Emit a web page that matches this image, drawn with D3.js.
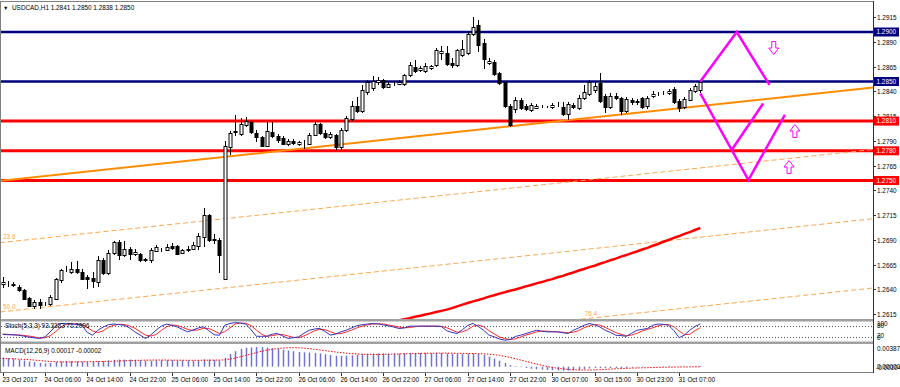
<!DOCTYPE html>
<html><head><meta charset="utf-8">
<script src="https://cdn.jsdelivr.net/npm/d3@7"></script>
<style>body{margin:0;background:#fff}svg{display:block}text{font-family:"Liberation Sans",Arial,sans-serif}</style>
</head><body><svg id="c" width="900" height="387"></svg>
<script>
// ---------------- DATA ----------------
const titleText = "USDCAD,H1  1.2841 1.2850 1.2838 1.2850";
const opens = [
1.2645,1.2645,1.2645,1.2642,1.2639,1.2631,1.2623,1.2627,1.2625,1.2625,
1.2630,1.2649,1.2660,1.2658,1.2661,1.2658,1.2653,1.2652,1.2647,1.2670,
1.2657,1.2677,1.2688,1.2675,1.2681,1.2676,1.2676,1.2670,1.2670,1.2679,
1.2680,1.2680,1.2684,1.2684,1.2677,1.2680,1.2681,1.2684,1.2693,1.2715,
1.2690,1.2690,1.2651,1.2784,1.2799,1.2797,1.2806,1.2809,1.2798,1.2794,
1.2785,1.2799,1.2795,1.2793,1.2787,1.2790,1.2787,1.2788,1.2787,1.2796,
1.2807,1.2798,1.2794,1.2796,1.2784,1.2801,1.2812,1.2825,1.2820,1.2839,
1.2843,1.2850,1.2852,1.2844,1.2847,1.2847,1.2847,1.2857,1.2865,1.2862,
1.2861,1.2864,1.2867,1.2879,1.2879,1.2869,1.2867,1.2877,1.2879,1.2898,
1.2907,1.2889,1.2869,1.2870,1.2859,1.2849,1.2825,1.2822,1.2831,1.2825,
1.2821,1.2823,1.2824,1.2824,1.2824,1.2826,1.2824,1.2817,1.2826,1.2823,
1.2833,1.2837,1.2841,1.2848,1.2835,1.2824,1.2835,1.2833,1.2820,1.2831,
1.2829,1.2833,1.2825,1.2835,1.2837,1.2838,1.2838,1.2842,1.2830,1.2824,
1.2831,1.2840,1.2841];
const highs = [
1.2653,1.2648,1.2647,1.2644,1.2640,1.2632,1.2629,1.2630,1.2627,1.2634,
1.2652,1.2661,1.2664,1.2668,1.2669,1.2661,1.2655,1.2658,1.2674,1.2672,
1.2680,1.2689,1.2690,1.2689,1.2683,1.2681,1.2677,1.2672,1.2682,1.2685,
1.2682,1.2686,1.2687,1.2685,1.2681,1.2684,1.2688,1.2697,1.2722,1.2716,
1.2696,1.2692,1.2790,1.2800,1.2816,1.2813,1.2814,1.2811,1.2801,1.2795,
1.2809,1.2809,1.2797,1.2795,1.2792,1.2792,1.2790,1.2791,1.2798,1.2809,
1.2808,1.2801,1.2799,1.2797,1.2803,1.2815,1.2830,1.2834,1.2846,1.2852,
1.2856,1.2855,1.2853,1.2849,1.2850,1.2852,1.2858,1.2870,1.2872,1.2866,
1.2869,1.2867,1.2884,1.2886,1.2886,1.2874,1.2883,1.2892,1.2900,1.2915,
1.2912,1.2893,1.2874,1.2872,1.2860,1.2850,1.2827,1.2834,1.2833,1.2827,
1.2828,1.2827,1.2826,1.2825,1.2828,1.2829,1.2829,1.2829,1.2828,1.2836,
1.2846,1.2852,1.2849,1.2859,1.2837,1.2838,1.2838,1.2834,1.2834,1.2833,
1.2832,1.2834,1.2835,1.2840,1.2839,1.2840,1.2842,1.2844,1.2832,1.2834,
1.2843,1.2847,1.2850];
const lows = [
1.2641,1.2642,1.2642,1.2637,1.2629,1.2622,1.2620,1.2620,1.2623,1.2623,
1.2629,1.2646,1.2658,1.2656,1.2656,1.2649,1.2640,1.2641,1.2642,1.2655,
1.2655,1.2675,1.2670,1.2673,1.2670,1.2674,1.2668,1.2668,1.2667,1.2678,
1.2678,1.2679,1.2680,1.2675,1.2676,1.2678,1.2680,1.2680,1.2683,1.2688,
1.2686,1.2657,1.2650,1.2776,1.2795,1.2795,1.2804,1.2797,1.2789,1.2784,
1.2784,1.2793,1.2788,1.2786,1.2785,1.2786,1.2785,1.2782,1.2786,1.2795,
1.2796,1.2792,1.2792,1.2781,1.2781,1.2799,1.2810,1.2818,1.2818,1.2836,
1.2840,1.2846,1.2842,1.2843,1.2845,1.2846,1.2845,1.2855,1.2859,1.2860,
1.2859,1.2862,1.2865,1.2872,1.2866,1.2864,1.2865,1.2875,1.2877,1.2896,
1.2880,1.2863,1.2867,1.2856,1.2846,1.2823,1.2804,1.2818,1.2821,1.2820,
1.2819,1.2822,1.2823,1.2823,1.2822,1.2824,1.2815,1.2811,1.2822,1.2821,
1.2831,1.2835,1.2838,1.2828,1.2818,1.2822,1.2831,1.2816,1.2818,1.2826,
1.2826,1.2822,1.2822,1.2833,1.2835,1.2836,1.2836,1.2827,1.2819,1.2822,
1.2830,1.2838,1.2838];
const closes = [
1.2647,1.2645,1.2644,1.2639,1.2630,1.2623,1.2627,1.2624,1.2625,1.2632,
1.2650,1.2660,1.2660,1.2661,1.2658,1.2650,1.2650,1.2648,1.2670,1.2657,
1.2677,1.2688,1.2675,1.2681,1.2676,1.2678,1.2670,1.2671,1.2680,1.2683,
1.2680,1.2683,1.2682,1.2676,1.2680,1.2681,1.2685,1.2694,1.2715,1.2690,
1.2691,1.2675,1.2785,1.2798,1.2800,1.2807,1.2810,1.2799,1.2794,1.2785,
1.2800,1.2795,1.2791,1.2787,1.2790,1.2788,1.2789,1.2788,1.2796,1.2807,
1.2798,1.2794,1.2797,1.2784,1.2801,1.2813,1.2825,1.2820,1.2841,1.2850,
1.2851,1.2852,1.2844,1.2847,1.2847,1.2850,1.2857,1.2867,1.2861,1.2864,
1.2866,1.2866,1.2882,1.2881,1.2868,1.2867,1.2882,1.2883,1.2898,1.2905,
1.2887,1.2873,1.2871,1.2858,1.2848,1.2825,1.2806,1.2831,1.2823,1.2822,
1.2826,1.2825,1.2824,1.2824,1.2826,1.2826,1.2817,1.2827,1.2824,1.2833,
1.2839,1.2850,1.2845,1.2830,1.2824,1.2835,1.2833,1.2820,1.2832,1.2829,
1.2830,1.2824,1.2833,1.2837,1.2837,1.2838,1.2840,1.2829,1.2823,1.2832,
1.2841,1.2845,1.2850];

const timeLabels = ["23 Oct 2017","24 Oct 06:00","24 Oct 14:00","24 Oct 22:00","25 Oct 06:00","25 Oct 14:00","25 Oct 22:00","26 Oct 06:00","26 Oct 14:00","26 Oct 22:00","27 Oct 06:00","27 Oct 14:00","27 Oct 22:00","30 Oct 07:00","30 Oct 15:00","30 Oct 23:00","31 Oct 07:00"];
const timeLabelBars = [0,8,16,24,32,40,48,56,64,72,80,88,96,104,112,120,128];

const priceTicks = [1.2915,1.2890,1.2865,1.2840,1.2815,1.2790,1.2765,1.2740,1.2715,1.2690,1.2665,1.2640,1.2615];
const levelPrices = [1.2900,1.2850,1.2810,1.2780,1.2750];
const levelKinds = ["navy","navy","red","red","red"];

const trendAnchors = [[0,1.2750],[100,1.2807]];
const fibLevels = [0.236,0.5,0.764];
const fibLabels = ["23.6","50.0","76.4"];
const fibWidth = 0.0265;

const maValues = [
1.26088,1.26099,1.26110,1.26123,1.26133,1.26146,1.26158,1.26171,1.26183,1.26196,
1.26211,1.26228,1.26246,1.26262,1.26279,1.26293,1.26309,1.26327,1.26341,1.26357,
1.26371,1.26387,1.26399,1.26414,1.26431,1.26444,1.26461,1.26474,1.26491,1.26504,
1.26523,1.26537,1.26556,1.26571,1.26591,1.26606,1.26625,1.26639,1.26659,1.26675,
1.26695,1.26711,1.26731,1.26747,1.26767,1.26783,1.26803,1.26819,1.26841,1.26859,
1.26881,1.26899,1.26921,1.26939,1.26961,1.26979,1.27000,1.27020];

const zigUpper = [[132,1.2850],[138.9,1.2900],[145.1,1.28465]];
const zigLower = [[132,1.2838],[141.1,1.27505],[148.0,1.28162]];
const zigInner = [[137.9,1.27805],[143.9,1.28279]];
const arrowMarks = [[145.9,1.28838,"down"],[149.9,1.2800,"up"],[148.8,1.27636,"up"]];

const stochLabel = "Stoch(5,3,3) 93.3333 71.2996";
const stochLevels = [80,20];
const stochAxis = ["100","80","20","0"];
const stochK = [
33,32,31,29,24,18,14,11,20,48,
80,95,94,92,90,85,45,29,57,75,
88,92,89,85,70,48,30,11,30,57,
80,92,85,76,62,48,58,70,76,55,
32,29,85,95,100,97,92,60,23,23,
23,35,39,25,11,15,20,40,57,64,
67,50,30,35,48,57,70,82,88,92,
95,93,87,82,75,67,70,80,80,80,
80,80,80,78,55,45,39,60,85,95,
78,57,30,20,8,1,5,22,29,38,
48,57,52,48,48,48,43,39,57,70,
85,95,88,75,57,45,29,27,23,40,
57,62,67,85,92,90,85,55,15,30,
57,78,93.33];
const stochD = [
36,34,32,31,28,24,19,14,15,26,
49,74,90,94,92,89,73,53,44,54,
73,85,90,89,81,68,49,30,24,33,
56,76,86,84,74,62,56,59,68,67,
54,39,49,70,93,97,96,83,58,35,
23,27,32,33,25,17,15,25,39,54,
63,60,49,38,38,47,58,70,80,87,
92,93,92,87,81,75,71,72,77,80,
80,80,80,79,71,59,46,48,61,80,
86,77,55,36,19,10,5,9,19,30,
38,48,52,52,49,48,46,43,46,55,
71,83,89,86,73,59,44,34,26,30,
40,53,62,71,81,89,89,77,52,33,
34,55,71.30];

const macdLabel = "MACD(12,26,9) 0.00017 -0.00002";
const macdAxis = ["0.00387","0.00000","-0.00104"];
const macdHist = [
.00180,.00170,.00160,.00140,.00120,.00100,.00090,.00075,.00065,.00075,
.00095,.00105,.00110,.00110,.00105,.00100,.00095,.00095,.00105,.00112,
.00125,.00135,.00140,.00140,.00140,.00135,.00128,.00120,.00120,.00125,
.00128,.00130,.00130,.00125,.00123,.00122,.00122,.00128,.00145,.00140,
.00135,.00125,.00175,.00250,.00305,.00350,.00370,.00380,.00387,.00385,
.00378,.00365,.00350,.00335,.00320,.00305,.00290,.00283,.00278,.00272,
.00262,.00245,.00230,.00213,.00208,.00218,.00225,.00235,.00248,.00255,
.00260,.00262,.00262,.00260,.00260,.00258,.00262,.00268,.00270,.00270,
.00270,.00268,.00272,.00268,.00262,.00255,.00252,.00250,.00255,.00260,
.00250,.00230,.00200,.00160,.00120,.00075,.00030,.00010,-.00010,-.00025,
-.00040,-.00050,-.00058,-.00065,-.00070,-.00075,-.00078,-.00076,-.00070,-.00060,
-.00048,-.00035,-.00028,-.00025,-.00028,-.00026,-.00025,-.00027,-.00024,-.00018,
-.00012,-.00008,-.00004,.00000,.00004,.00008,.00010,.00004,-.00004,-.00003,
.00003,.00009,.00017];
const macdSignal = [
.00160,.00158,.00155,.00150,.00145,.00138,.00130,.00120,.00110,.00102,
.00097,.00094,.00092,.00093,.00095,.00097,.00099,.00100,.00102,.00103,
.00105,.00108,.00112,.00116,.00120,.00124,.00127,.00129,.00130,.00131,
.00131,.00130,.00129,.00128,.00127,.00126,.00126,.00126,.00127,.00128,
.00129,.00130,.00135,.00150,.00170,.00195,.00222,.00250,.00278,.00303,
.00325,.00342,.00356,.00366,.00372,.00374,.00372,.00366,.00356,.00344,
.00330,.00316,.00302,.00289,.00277,.00266,.00257,.00250,.00245,.00242,
.00240,.00240,.00242,.00244,.00247,.00250,.00253,.00256,.00259,.00262,
.00264,.00265,.00266,.00267,.00267,.00266,.00264,.00262,.00260,.00259,
.00257,.00253,.00246,.00236,.00222,.00204,.00182,.00158,.00132,.00105,
.00078,.00052,.00028,.00006,-.00014,-.00030,-.00043,-.00054,-.00061,-.00065,
-.00066,-.00065,-.00062,-.00058,-.00053,-.00047,-.00041,-.00036,-.00032,-.00028,
-.00025,-.00022,-.00019,-.00016,-.00013,-.00011,-.00009,-.00007,-.00006,-.00005,
-.00004,-.00003,-.00002];

// ---------------- LAYOUT / STYLE ----------------
const W = 900, H = 387, FS = 6.4;
const plotL = 1, plotR = 873;
const mainTop = 2, mainBot = 319;
const stTop = 321.5, stBot = 341.5;
const mdTop = 344, mdBot = 372;
const colors = {navy:"#00007f", red:"#ff0000", orange:"#ff8c00", fib:"#ffa54a", pink:"#ff00ff",
  ma:"#ff0000", k:"#3434c0", d:"#ff2a2a", hist:"#7272d2", sig:"#ff0000", sep:"#a0a0a0", axis:"#303030"};

const svg = d3.select("#c");
svg.append("rect").attr("width", W).attr("height", H).attr("fill", "#fff");

const nBars = closes.length;
const x = d3.scaleLinear().domain([0, 132]).range([2.7, 700.3]);
const y = d3.scaleLinear().domain([1.2750, 1.2900]).range([180.5, 32]);
const ys = d3.scaleLinear().domain([0, 100]).range([340.4, 322.6]);
const ym = d3.scaleLinear().domain([-0.00104, 0.00387]).range([372, 347]);
const cx = i => Math.round(x(i)) + 0.5;

const defs = svg.append("defs");
function clip(id, y0, y1) {
  defs.append("clipPath").attr("id", id).append("rect")
    .attr("x", plotL).attr("y", y0).attr("width", plotR - plotL).attr("height", y1 - y0);
}
clip("cm", mainTop, mainBot); clip("cs", stTop, stBot); clip("cd", mdTop, mdBot);

const main = svg.append("g").attr("clip-path", "url(#cm)");

// horizontal levels
levelPrices.forEach((p, i) => {
  main.append("line").attr("x1", plotL).attr("x2", plotR).attr("y1", y(p)).attr("y2", y(p))
    .attr("stroke", colors[levelKinds[i]]).attr("stroke-width", levelKinds[i] === "red" ? 3 : 2.5);
});

// trendline + fib channel
const slope = (trendAnchors[1][1] - trendAnchors[0][1]) / (trendAnchors[1][0] - trendAnchors[0][0]);
const trendAt = b => trendAnchors[0][1] + slope * (b - trendAnchors[0][0]);
const bL = x.invert(plotL - 1), bR = x.invert(plotR);
fibLevels.forEach((lv, k) => {
  const off = -fibWidth * lv;
  main.append("line")
    .attr("x1", x(bL)).attr("y1", y(trendAt(bL) + off))
    .attr("x2", x(bR)).attr("y2", y(trendAt(bR) + off))
    .attr("stroke", colors.fib).attr("stroke-width", 1).attr("stroke-dasharray", "5,3");
  // label at the left-most visible point of the level line
  let lx = plotL + 2;
  const yAtL = y(trendAt(x.invert(lx)) + off);
  if (yAtL > mainBot) {
    const pB = y.invert(mainBot);
    lx = x(trendAnchors[0][0] + (pB - off - trendAnchors[0][1]) / slope) + 2;
  }
  const ly = y(trendAt(x.invert(lx)) + off) - 3;
  main.append("text").attr("x", lx).attr("y", Math.min(ly, mainBot - 3)).attr("font-size", FS)
    .attr("fill", colors.fib).text(fibLabels[k]);
});
main.append("line")
  .attr("x1", x(bL)).attr("y1", y(trendAt(bL)))
  .attr("x2", x(bR)).attr("y2", y(trendAt(bR)))
  .attr("stroke", colors.orange).attr("stroke-width", 2);

// moving average
const maStart = nBars - maValues.length;
main.append("path").datum(maValues)
  .attr("d", d3.line().x((d, i) => x(maStart + i)).y(d => y(d)))
  .attr("fill", "none").attr("stroke", colors.ma).attr("stroke-width", 2.5);

// candles
const cg = main.append("g");
closes.forEach((c, i) => {
  const o = opens[i], h = highs[i], l = lows[i];
  const px = cx(i);
  cg.append("line").attr("x1", px).attr("x2", px).attr("y1", Math.round(y(h))).attr("y2", Math.round(y(l)))
    .attr("stroke", "#000").attr("stroke-width", 1);
  const top = Math.round(y(Math.max(o, c))), bot = Math.round(y(Math.min(o, c)));
  cg.append("rect").attr("x", px - 1.5).attr("y", top + 0.5).attr("width", 3).attr("height", Math.max(0, bot - top))
    .attr("fill", c >= o ? "#fff" : "#000").attr("stroke", "#000").attr("stroke-width", 1);
});

// zigzag projection
const zl = d3.line().x(d => x(d[0])).y(d => y(d[1]));
[zigUpper, zigLower, zigInner].forEach(pts => {
  main.append("path").attr("d", zl(pts)).attr("fill", "none").attr("stroke", colors.pink)
    .attr("stroke-width", 2.5).attr("stroke-linejoin", "miter");
});
arrowMarks.forEach(a => {
  const ax = x(a[0]), ay = y(a[1]);
  const s = a[2] === "down" ? 1 : -1;
  const pts = [[-2, -6.5], [2, -6.5], [2, 0], [5, 0], [0, 6.5], [-5, 0], [-2, 0]]
    .map(p => [ax + p[0], ay + s * p[1]]);
  main.append("path").attr("d", "M" + pts.map(p => p.join(",")).join("L") + "Z")
    .attr("fill", "#fff").attr("stroke", colors.pink).attr("stroke-width", 1);
});

// title
svg.append("text").attr("x", 3).attr("y", 10).attr("font-size", 5.5).attr("fill", "#000").text("▼");
svg.append("text").attr("x", 12).attr("y", 10).attr("font-size", FS).attr("fill", "#000").text(titleText);

// ---------- Stochastic ----------
const st = svg.append("g").attr("clip-path", "url(#cs)");
stochLevels.forEach(v => {
  st.append("line").attr("x1", plotL).attr("x2", plotR).attr("y1", Math.round(ys(v)) + 0.5).attr("y2", Math.round(ys(v)) + 0.5)
    .attr("stroke", "#555").attr("stroke-width", 1).attr("stroke-dasharray", "1,2");
});
const sl = d3.line().x((d, i) => x(i)).y(d => ys(d));
st.append("path").datum(stochD).attr("d", sl).attr("fill", "none").attr("stroke", colors.d).attr("stroke-width", 1);
st.append("path").datum(stochK).attr("d", sl).attr("fill", "none").attr("stroke", colors.k).attr("stroke-width", 1);
st.append("text").attr("x", 5).attr("y", 327.5).attr("font-size", FS).attr("fill", "#000").text(stochLabel);

// ---------- MACD ----------
const md = svg.append("g").attr("clip-path", "url(#cd)");
macdHist.forEach((v, i) => {
  md.append("line").attr("x1", cx(i)).attr("x2", cx(i)).attr("y1", ym(0)).attr("y2", ym(v))
    .attr("stroke", colors.hist).attr("stroke-width", 1.5);
});
md.append("path").datum(macdSignal).attr("d", d3.line().x((d, i) => x(i)).y(d => ym(d)))
  .attr("fill", "none").attr("stroke", colors.sig).attr("stroke-width", 1).attr("stroke-dasharray", "1.5,1.5");
md.append("text").attr("x", 5).attr("y", 352.5).attr("font-size", FS).attr("fill", "#000").text(macdLabel);

// ---------- frames / separators ----------
svg.append("rect").attr("x", 0).attr("y", mainBot).attr("width", plotR).attr("height", 2.5).attr("fill", colors.sep);
svg.append("rect").attr("x", 0).attr("y", stBot).attr("width", plotR).attr("height", 2.5).attr("fill", colors.sep);
svg.append("line").attr("x1", 0).attr("x2", plotR).attr("y1", mdBot + 0.5).attr("y2", mdBot + 0.5).attr("stroke", "#808080");
svg.append("line").attr("x1", 0.5).attr("x2", 0.5).attr("y1", 1).attr("y2", mdBot + 1).attr("stroke", "#808080");
svg.append("line").attr("x1", 0).attr("x2", plotR).attr("y1", 1.5).attr("y2", 1.5).attr("stroke", "#808080");
svg.append("line").attr("x1", plotR + 0.5).attr("x2", plotR + 0.5).attr("y1", 1).attr("y2", mdBot + 1).attr("stroke", colors.axis);

// ---------- right price axis ----------
const ax = svg.append("g");
priceTicks.forEach(p => {
  const ty = Math.round(y(p)) + 0.5;
  ax.append("line").attr("x1", plotR).attr("x2", plotR + 3).attr("y1", ty).attr("y2", ty).attr("stroke", colors.axis);
  ax.append("text").attr("x", plotR + 4).attr("y", ty + FS * 0.36).attr("font-size", FS).attr("fill", "#000").text(p.toFixed(4));
});
levelPrices.forEach((p, i) => {
  const ty = y(p);
  ax.append("rect").attr("x", plotR + 1).attr("y", ty - 4.5).attr("width", 25).attr("height", 9).attr("fill", colors[levelKinds[i]]);
  ax.append("text").attr("x", plotR + 3.5).attr("y", ty + FS * 0.36).attr("font-size", FS).attr("fill", "#fff").text(p.toFixed(4));
});
// stoch axis
[[100, 323.5], [80, 325.5], [20, 336], [0, 338]].forEach((d, k) => {
  ax.append("text").attr("x", plotR + 4).attr("y", d[1] + FS * 0.36).attr("font-size", FS).attr("fill", "#000").text(stochAxis[k]);
});
// macd axis
ax.append("text").attr("x", plotR + 4).attr("y", 348.5 + FS * 0.36).attr("font-size", FS).attr("fill", "#000").text(macdAxis[0]);
ax.append("text").attr("x", plotR + 4).attr("y", 366.5 + FS * 0.36).attr("font-size", FS).attr("fill", "#000").text(macdAxis[1]);
ax.append("text").attr("x", plotR + 3).attr("y", 367.5 + FS * 0.36).attr("font-size", FS).attr("fill", "#000").text(macdAxis[2]);

// ---------- time axis ----------
timeLabels.forEach((t, k) => {
  const tx = cx(timeLabelBars[k]);
  svg.append("line").attr("x1", tx).attr("x2", tx).attr("y1", mdBot + 1).attr("y2", mdBot + 4).attr("stroke", colors.axis);
  svg.append("text").attr("x", tx - 1).attr("y", 381.5).attr("font-size", FS).attr("fill", "#000").text(t);
});
</script></body></html>
